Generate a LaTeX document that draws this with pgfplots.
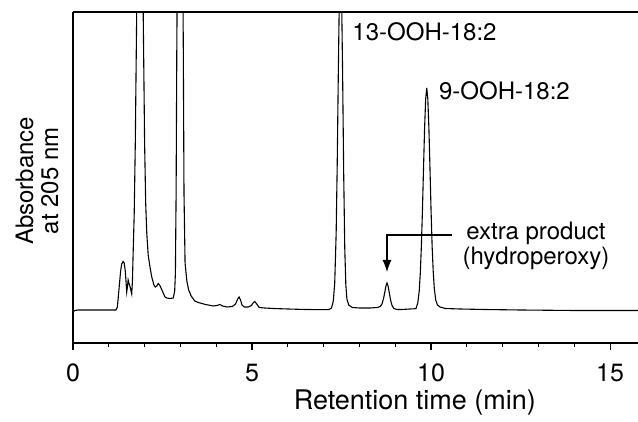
\documentclass[border=0pt]{standalone}
\usepackage{pgfplots}
\pgfplotsset{compat=1.18}
\usepackage{fontspec}
\setmainfont{TeX Gyre Heros}
\usetikzlibrary{arrows.meta}

\pgfplotstableread{
t y
0.00 31
0.05 32.5
0.15 33
0.50 33
1.00 33
1.20 33
1.24 36
1.29 56
1.33 72
1.36 79
1.40 81.5
1.43 80
1.46 72
1.48 62
1.50 51
1.52 56
1.54 63
1.56 60
1.59 57
1.62 52
1.64 49
1.66 62
1.68 90
1.71 130
1.74 200
1.77 300
1.80 400
1.87 600
1.94 400
1.97 300
2.00 200
2.03 140
2.06 110
2.10 88
2.15 76
2.20 66
2.26 58
2.30 56
2.34 57
2.38 59.5
2.42 58
2.47 54
2.52 50
2.57 46
2.62 45
2.70 44.5
2.80 45
2.84 52
2.86 70
2.88 150
2.90 300
2.92 400
2.99 600
3.06 400
3.08 300
3.10 150
3.13 80
3.18 62
3.23 53
3.30 47
3.40 42
3.50 40.5
3.70 38.5
3.92 37
4.02 37.5
4.10 38.5
4.18 37
4.30 36
4.45 36.5
4.54 39
4.60 44
4.64 46
4.68 43
4.72 38
4.78 36
4.90 36
4.98 37.5
5.04 40.5
5.08 41.5
5.13 39
5.20 35.5
5.35 35
5.60 34.5
6.00 34
6.50 33.5
7.00 33.3
7.15 33.5
7.22 35
7.27 42
7.31 60
7.35 110
7.38 180
7.41 270
7.44 350
7.47 380
7.50 350
7.53 270
7.56 170
7.59 95
7.62 58
7.65 44
7.70 38
7.80 35.5
8.00 35
8.30 35
8.50 35.5
8.58 36.5
8.63 39
8.67 44
8.71 51
8.74 57
8.77 60
8.80 57
8.83 51
8.87 43
8.91 37.5
8.96 34.5
9.05 33.5
9.20 33.5
9.40 34
9.53 34.2
9.58 34.5
9.63 40
9.67 52
9.70 70
9.73 97
9.76 133
9.79 175
9.82 215
9.85 244
9.88 255
9.91 244
9.94 215
9.97 175
10.00 133
10.03 97
10.06 72
10.09 55
10.13 43
10.18 38
10.25 36
10.40 34.5
10.80 34
11.50 33.5
12.50 33
14.00 32.5
15.78 32.5
}\chrom

\begin{document}
\begin{tikzpicture}
\begin{axis}[
  name=ax,
  scale only axis,
  width=565pt, height=331pt,
  xmin=0, xmax=15.78,
  ymin=0, ymax=331,
  axis x line*=bottom,
  axis y line*=left,
  axis line style={-, line width=1.3pt, black},
  xtick={0,5,10,15},
  minor x tick num=4,
  ytick=\empty,
  tick align=outside,
  major tick length=7pt,
  minor tick length=4pt,
  every tick/.style={black, line width=1.1pt},
  /pgf/number format/assume math mode=true,
  xticklabel style={font=\fontsize{25}{29}\selectfont, anchor=base, yshift=-31.5pt},
  clip mode=individual,
]
\addplot[black, line width=1.1pt] table[x=t, y=y] {\chrom};
\draw[black, line width=1.3pt] (rel axis cs:0,1) -- (rel axis cs:1,1);
\draw[black, line width=1.1pt, -{Latex[length=12pt,width=9pt]}]
  (axis cs:10.59,108) -- (axis cs:8.77,108) -- (axis cs:8.77,71);
\node[anchor=base west, inner sep=0pt, font=\fontsize{24}{28}\selectfont] at (axis cs:7.80,302) {13-OOH-18:2};
\node[anchor=base west, inner sep=0pt, font=\fontsize{24}{28}\selectfont] at (axis cs:10.22,243) {9-OOH-18:2};
\node[anchor=base, inner sep=0pt, font=\fontsize{24}{28}\selectfont] at (axis cs:12.93,103) {extra product};
\node[anchor=base, inner sep=0pt, font=\fontsize{24}{28}\selectfont] at (axis cs:12.93,78) {(hydroperoxy)};
\node[anchor=base, inner sep=0pt, font=\fontsize{27}{31}\selectfont] at ([yshift=-67pt]axis cs:9.55,0) {Retention time (min)};
\node[rotate=90, anchor=center, inner sep=0pt, align=center, font=\fontsize{24}{25}\selectfont] at ([xshift=-36pt]rel axis cs:0,0.49) {Absorbance\\at 205 nm};
\end{axis}
\pgfresetboundingbox
\path ([xshift=-73pt,yshift=-79pt]ax.south west) rectangle ([yshift=12pt]ax.north east);
\end{tikzpicture}
\end{document}
